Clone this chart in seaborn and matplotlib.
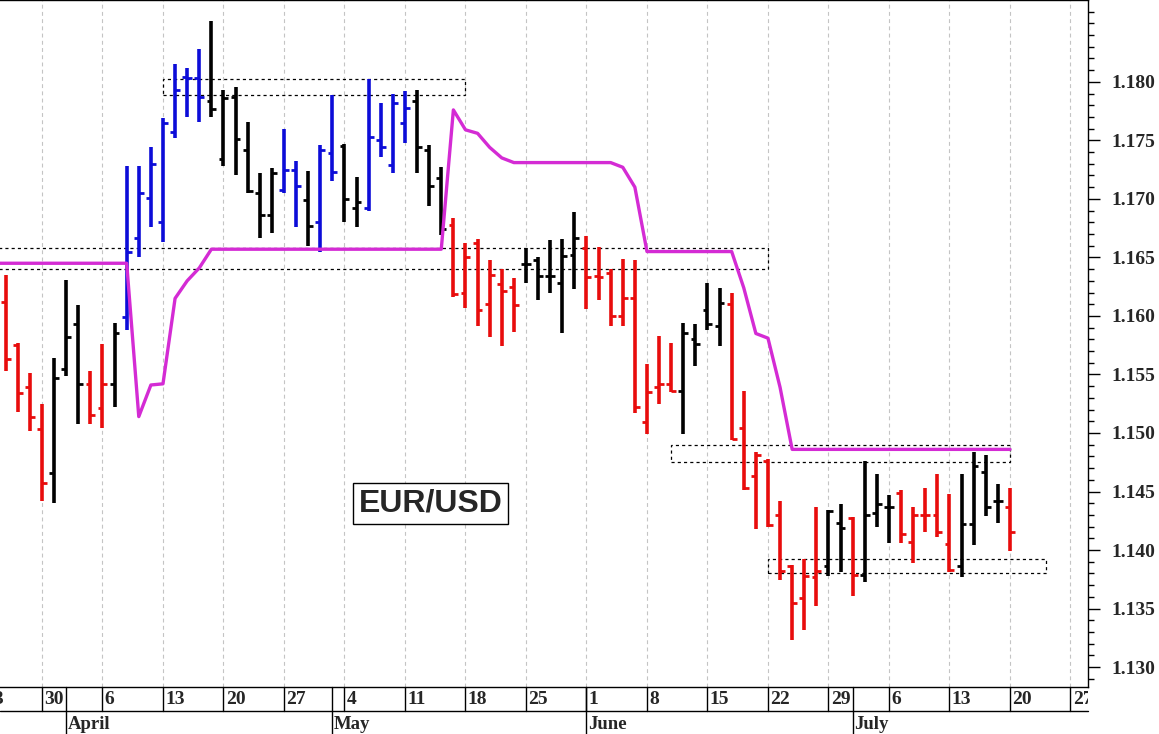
import pandas as pd
import matplotlib
matplotlib.use("Agg")
import matplotlib.pyplot as plt
import matplotlib.transforms as mtransforms
from matplotlib.patches import Rectangle
from matplotlib.ticker import FixedLocator, MultipleLocator, FormatStrFormatter
import seaborn as sns

# trading days on the axis (weekends dropped)
days = pd.bdate_range("2026-03-23", "2026-07-31")
bar_days = pd.bdate_range("2026-03-25", "2026-07-20")
stop_days = pd.bdate_range("2026-03-24", "2026-07-20")

# bar colour per day: r = down, k = neutral, b = up
trend = ("rrrrkkkrrk" "bbbbbbbkkk" "kkkbbkbbkk" "bbbbkkkrrr" "rrrkkkkkrr"
         "rrrrrrkkkk" "rrrrrrrrkk" "rkkkrrrrrk" "kkkr")

highs = [
    1.1635, 1.1577, 1.1551, 1.1525, 1.1564, 1.1631, 1.1609, 1.1553, 1.1576, 1.1594,
    1.1728, 1.1728, 1.1744, 1.1769, 1.1815, 1.1812, 1.1828, 1.1852, 1.1793, 1.1796,
    1.1766, 1.1722, 1.1726, 1.1760, 1.1732, 1.1724, 1.1746, 1.1789, 1.1747, 1.1719,
    1.1802, 1.1782, 1.1790, 1.1792, 1.1793, 1.1746, 1.1727, 1.1684, 1.1662, 1.1666,
    1.1648, 1.1640, 1.1632, 1.1658, 1.1650, 1.1665, 1.1666, 1.1689, 1.1668, 1.1659,
    1.1640, 1.1649, 1.1648, 1.1559, 1.1583, 1.1577, 1.1594, 1.1593, 1.1628, 1.1624,
    1.1620, 1.1536, 1.1484, 1.1478, 1.1442, 1.1387, 1.1392, 1.1437, 1.1434, 1.1439,
    1.1428, 1.1476, 1.1465, 1.1447, 1.1451, 1.1437, 1.1453, 1.1465, 1.1448, 1.1465,
    1.1484, 1.1481, 1.1456, 1.1453,
]
lows = [
    1.1553, 1.1518, 1.1502, 1.1442, 1.1440, 1.1549, 1.1508, 1.1508, 1.1504, 1.1522,
    1.1588, 1.1650, 1.1676, 1.1663, 1.1752, 1.1770, 1.1766, 1.1770, 1.1728, 1.1720,
    1.1705, 1.1667, 1.1671, 1.1705, 1.1676, 1.1660, 1.1655, 1.1715, 1.1680, 1.1676,
    1.1690, 1.1736, 1.1722, 1.1748, 1.1722, 1.1694, 1.1669, 1.1616, 1.1607, 1.1591,
    1.1582, 1.1574, 1.1586, 1.1628, 1.1614, 1.1620, 1.1585, 1.1623, 1.1606, 1.1614,
    1.1591, 1.1591, 1.1517, 1.1499, 1.1525, 1.1535, 1.1499, 1.1557, 1.1588, 1.1574,
    1.1494, 1.1451, 1.1418, 1.1420, 1.1374, 1.1323, 1.1332, 1.1352, 1.1378, 1.1381,
    1.1361, 1.1373, 1.1420, 1.1406, 1.1406, 1.1389, 1.1415, 1.1411, 1.1381, 1.1377,
    1.1404, 1.1429, 1.1423, 1.1399,
]
opens = [
    1.1612, 1.1575, 1.1539, 1.1503, 1.1466, 1.1555, 1.1593, 1.1542, 1.1521, 1.1542,
    1.1599, 1.1667, 1.1701, 1.1680, 1.1757, 1.1804, 1.1803, 1.1784, 1.1734, 1.1787,
    1.1742, 1.1705, 1.1686, 1.1708, 1.1725, 1.1699, 1.1680, 1.1739, 1.1745, 1.1692,
    1.1692, 1.1750, 1.1729, 1.1765, 1.1784, 1.1742, 1.1718, 1.1678, 1.1620, 1.1662,
    1.1610, 1.1627, 1.1625, 1.1644, 1.1648, 1.1634, 1.1628, 1.1652, 1.1658, 1.1634,
    1.1637, 1.1600, 1.1615, 1.1509, 1.1539, 1.1542, 1.1536, 1.1580, 1.1605, 1.1591,
    1.1610, 1.1504, 1.1463, 1.1476, 1.1430, 1.1386, 1.1359, 1.1377, 1.1386, 1.1423,
    1.1427, 1.1379, 1.1432, 1.1437, 1.1449, 1.1407, 1.1430, 1.1430, 1.1405, 1.1386,
    1.1422, 1.1467, 1.1442, 1.1437,
]
closes = [
    1.1563, 1.1534, 1.1514, 1.1457, 1.1547, 1.1582, 1.1542, 1.1515, 1.1542, 1.1585,
    1.1655, 1.1705, 1.1730, 1.1765, 1.1793, 1.1803, 1.1787, 1.1777, 1.1786, 1.1751,
    1.1707, 1.1686, 1.1722, 1.1725, 1.1711, 1.1677, 1.1742, 1.1723, 1.1700, 1.1697,
    1.1753, 1.1744, 1.1782, 1.1778, 1.1744, 1.1711, 1.1674, 1.1619, 1.1650, 1.1605,
    1.1635, 1.1621, 1.1609, 1.1644, 1.1634, 1.1634, 1.1651, 1.1667, 1.1633, 1.1633,
    1.1600, 1.1615, 1.1522, 1.1535, 1.1542, 1.1536, 1.1585, 1.1576, 1.1593, 1.1611,
    1.1495, 1.1453, 1.1481, 1.1421, 1.1382, 1.1355, 1.1378, 1.1382, 1.1433, 1.1419,
    1.1379, 1.1430, 1.1439, 1.1437, 1.1414, 1.1430, 1.1430, 1.1415, 1.1383, 1.1422,
    1.1472, 1.1437, 1.1442, 1.1415,
]

# trailing stop line (magenta)
stop_line = [
    1.1645, 1.1645, 1.1645, 1.1645, 1.1645, 1.1645, 1.1645, 1.1645, 1.1645, 1.1645,
    1.1645, 1.1645, 1.1514, 1.1541, 1.1542, 1.1615, 1.1630, 1.1641, 1.1657, 1.1657,
    1.1657, 1.1657, 1.1657, 1.1657, 1.1657, 1.1657, 1.1657, 1.1657, 1.1657, 1.1657,
    1.1657, 1.1657, 1.1657, 1.1657, 1.1657, 1.1657, 1.1657, 1.1657, 1.1776, 1.1759,
    1.1756, 1.1744, 1.1735, 1.1731, 1.1731, 1.1731, 1.1731, 1.1731, 1.1731, 1.1731,
    1.1731, 1.1731, 1.1727, 1.1710, 1.1655, 1.1655, 1.1655, 1.1655, 1.1655, 1.1655,
    1.1655, 1.1655, 1.1624, 1.1585, 1.1581, 1.1539, 1.1486, 1.1486, 1.1486, 1.1486,
    1.1486, 1.1486, 1.1486, 1.1486, 1.1486, 1.1486, 1.1486, 1.1486, 1.1486, 1.1486,
    1.1486, 1.1486, 1.1486, 1.1486, 1.1486,
]

# dotted support / resistance zones: start, end, low, high
zones = [
    ("2026-04-13", "2026-05-18", 1.1789, 1.1802),
    ("2026-03-23", "2026-06-22", 1.1640, 1.1658),
    ("2026-06-10", "2026-07-20", 1.1475, 1.1490),
    ("2026-06-22", "2026-07-23", 1.1380, 1.1392),
]

price_ticks = [1.130, 1.135, 1.140, 1.145, 1.150, 1.155, 1.160, 1.165, 1.170, 1.175, 1.180]

palette = {"r": "#e80c0c", "k": "black", "b": "#0c0cd8"}

sns.set_style("white")
plt.rcParams["font.family"] = ["Liberation Serif", "DejaVu Serif"]
plt.rcParams["font.weight"] = "bold"

fig = plt.figure(figsize=(11.59, 7.34), dpi=100)
ax = fig.add_axes([0, 47 / 734, 1088 / 1159, 687 / 734])

x = days.get_indexer(bar_days)
cols = [palette[c] for c in trend]
mondays = [p for p, d in enumerate(days) if d.dayofweek == 0]
month_starts = [p for p in range(1, len(days)) if days[p].month != days[p - 1].month]

for p in mondays:
    ax.axvline(p, color="#c4c4c4", lw=0.8, ls=(0, (3.5, 3)), zorder=0)

for start, end, lo, hi in zones:
    x0, x1 = days.get_indexer(pd.to_datetime([start, end]))
    ax.add_patch(Rectangle((x0, lo), x1 - x0, hi - lo, fill=False, ec="black",
                           lw=0.9, ls=(0, (2.5, 2.5)), zorder=2))

ax.vlines(x, lows, highs, colors=cols, lw=2.6, zorder=3)
ax.hlines(opens, x - 0.4, x, colors=cols, lw=2.0, zorder=3)
ax.hlines(closes, x, x + 0.4, colors=cols, lw=2.0, zorder=3)

sns.lineplot(x=days.get_indexer(stop_days), y=stop_line, color="#d42bd4", lw=2.4, ax=ax, zorder=4)

ax.text(37.1, 1.1440, "EUR/USD", ha="center", va="center", fontsize=23, fontweight="bold",
        family=["Liberation Sans", "DejaVu Sans"], zorder=5,
        bbox=dict(boxstyle="square,pad=0.17", fc="white", ec="black", lw=1))

ax.set_xlim(1.53, 91.45)
ax.set_ylim(1.12830, 1.18699)
ax.set_xticks([])
ax.set_xlabel("")
ax.set_ylabel("")
ax.yaxis.set_major_locator(FixedLocator(price_ticks))
ax.yaxis.set_minor_locator(MultipleLocator(0.001))
ax.yaxis.set_major_formatter(FormatStrFormatter("%.3f"))
ax.tick_params(axis="y", which="both", left=False, labelleft=False, right=True,
               labelright=True, direction="out", color="black", width=1)
ax.tick_params(axis="y", which="major", length=8.5, pad=8.2, labelsize=14)
ax.tick_params(axis="y", which="minor", length=4)
ax.spines["left"].set_visible(False)
for s in ("top", "right", "bottom"):
    ax.spines[s].set_color("black")
    ax.spines[s].set_linewidth(1)

# date row and month row under the plot
row = mtransforms.blended_transform_factory(ax.transData, ax.transAxes)
clip = mtransforms.TransformedBbox(mtransforms.Bbox([[0, 0], [1088 / 1159, 1]]), fig.transFigure)
xmin, xmax = ax.get_xlim()
y_sep = -24 / 687
y_date = -13 / 687
y_month = -42.3 / 687
y_end = -50 / 687

ax.plot([xmin, xmax], [y_sep, y_sep], transform=row, color="black", lw=1, clip_on=False)
for p in mondays:
    ax.plot([p, p], [0, y_sep], transform=row, color="black", lw=1, clip_on=False)
    t = ax.text(p + 0.18, y_date, str(days[p].day), transform=row, ha="left",
                va="center", fontsize=14, clip_on=True)
    t.set_clip_path(None)
    t.set_clip_box(clip)
for p in month_starts:
    ax.plot([p, p], [0, y_end], transform=row, color="black", lw=1, clip_on=False)
    ax.text(p + 0.15, y_month, days[p].strftime("%B"), transform=row, ha="left",
            va="baseline", fontsize=13.5, clip_on=False)

fig.savefig("out.png", dpi=100)
